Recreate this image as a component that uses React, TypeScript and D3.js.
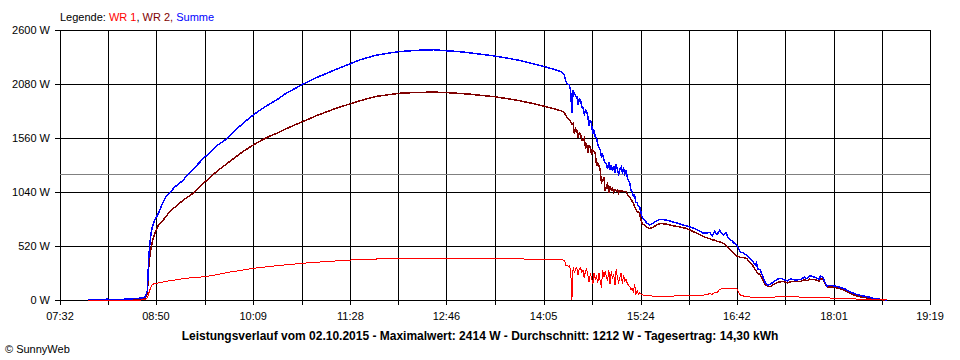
import * as d3 from "d3";

// sample times (HH:MM) and power per inverter in W
const times = [
  "07:55", "08:11", "08:14", "08:31", "08:38", "08:41", "08:43", "08:44", "08:45", "08:46",
  "08:47", "08:49", "08:52", "08:55", "08:58", "09:01", "09:05", "09:09", "09:12", "09:15",
  "09:20", "09:25", "09:30", "09:35", "09:40", "09:48", "09:55", "10:02", "10:09", "10:16",
  "10:22", "10:28", "10:35", "10:42", "10:49", "10:56", "11:02", "11:09", "11:15", "11:22",
  "11:28", "11:35", "11:42", "11:50", "11:58", "12:07", "12:17", "12:27", "12:36", "12:46",
  "12:56", "13:05", "13:15", "13:25", "13:35", "13:45", "13:55", "14:05", "14:10", "14:15",
  "14:19", "14:21", "14:22", "14:23", "14:24", "14:25", "14:26", "14:27", "14:28", "14:29",
  "14:30", "14:31", "14:32", "14:33", "14:34", "14:35", "14:36", "14:37", "14:38", "14:39",
  "14:40", "14:41", "14:42", "14:43", "14:44", "14:45", "14:46", "14:47", "14:48", "14:49",
  "14:50", "14:51", "14:52", "14:53", "14:54", "14:55", "14:56", "14:57", "14:58", "14:59",
  "15:00", "15:01", "15:02", "15:03", "15:04", "15:05", "15:06", "15:07", "15:08", "15:09",
  "15:10", "15:11", "15:12", "15:13", "15:14", "15:15", "15:16", "15:17", "15:18", "15:19",
  "15:20", "15:21", "15:22", "15:23", "15:24", "15:25", "15:27", "15:29", "15:31", "15:34",
  "15:37", "15:40", "15:45", "15:50", "15:55", "16:01", "16:05", "16:10", "16:15", "16:20",
  "16:22", "16:24", "16:26", "16:28", "16:30", "16:31", "16:33", "16:35", "16:38", "16:40",
  "16:42", "16:44", "16:45", "16:47", "16:50", "16:52", "16:55", "16:57", "16:58", "16:59",
  "17:01", "17:03", "17:05", "17:07", "17:09", "17:12", "17:15", "17:17", "17:20", "17:23",
  "17:26", "17:28", "17:31", "17:34", "17:37", "17:39", "17:41", "17:44", "17:47", "17:49",
  "17:50", "17:52", "17:54", "17:55", "17:58", "18:02", "18:06", "18:10", "18:14", "18:17",
  "18:21", "18:25", "18:30", "18:33", "18:36", "18:40", "18:44",
];

const wr1 = [
  0, 0, 0, 0, 0, 4, 20, 60, 96, 130,
  150, 158, 165, 172, 180, 185, 192, 200, 205, 210,
  216, 220, 225, 235, 245, 265, 278, 292, 305, 315,
  322, 330, 338, 346, 353, 360, 365, 370, 375, 380,
  385, 388, 392, 395, 397, 400, 402, 404, 404, 404,
  403, 402, 401, 400, 398, 396, 393, 390, 389, 388,
  386, 385, 384, 336, 330, 325, 330, 290, 0, 320,
  260, 300, 310, 240, 305, 310, 270, 290, 210, 280,
  300, 240, 170, 250, 220, 150, 260, 200, 230, 160,
  260, 180, 120, 290, 220, 270, 230, 180, 290, 150,
  280, 200, 250, 140, 300, 210, 170, 220, 260, 150,
  240, 180, 200, 160, 140, 130, 100, 110, 80, 150,
  60, 90, 55, 70, 60, 50, 45, 42, 40, 38,
  36, 35, 36, 38, 40, 40, 44, 46, 48, 60,
  55, 75, 70, 100, 110, 112, 108, 112, 110, 115,
  112, 60, 48, 40, 30, 30, 25, 25, 25, 25,
  25, 25, 25, 25, 25, 28, 30, 30, 30, 30,
  30, 30, 30, 28, 27, 27, 26, 25, 24, 23,
  23, 22, 21, 20, 19, 17, 15, 13, 11, 10,
  9, 8, 6, 4, 3, 1, 0,
];

const wr2 = [
  0, 0, 0, 0, 6, 14, 60, 300, 417, 500,
  560, 640, 720, 760, 800, 850, 890, 931, 960, 985,
  1027, 1085, 1139, 1190, 1245, 1316, 1380, 1440, 1492, 1540,
  1575, 1605, 1645, 1682, 1717, 1752, 1783, 1813, 1840, 1867,
  1890, 1915, 1940, 1962, 1975, 1990, 1996, 2000, 2002, 1997,
  1990, 1982, 1970, 1958, 1940, 1920, 1895, 1868, 1852, 1836,
  1822, 1813, 1800, 1780, 1760, 1745, 1733, 1716, 1690, 1700,
  1600, 1650, 1637, 1560, 1608, 1600, 1540, 1541, 1560, 1470,
  1500, 1420, 1486, 1476, 1400, 1440, 1430, 1412, 1290, 1320,
  1290, 1252, 1130, 1150, 1180, 1050, 1091, 1120, 1030, 1090,
  1060, 1075, 1040, 1065, 1050, 1062, 1030, 1055, 1050, 1048,
  1045, 1044, 1043, 1020, 1000, 990, 970, 950, 931, 900,
  870, 850, 845, 835, 780, 738, 720, 700, 690, 700,
  725, 738, 730, 715, 705, 690, 668, 640, 610, 590,
  580, 575, 565, 560, 550, 546, 530, 505, 470, 440,
  424, 415, 410, 410, 400, 370, 330, 290, 275, 260,
  241, 200, 150, 135, 128, 150, 170, 175, 177, 165,
  175, 180, 177, 180, 195, 185, 200, 199, 190, 180,
  205, 200, 150, 128, 125, 120, 110, 90, 65, 48,
  35, 25, 15, 10, 6, 2, 0,
];

const summe = [
  0, 8, 0, 12, 18, 26, 90, 380, 540, 640,
  700, 770, 835, 920, 995, 1030, 1085, 1125, 1150, 1200,
  1255, 1320, 1380, 1430, 1490, 1557, 1640, 1715, 1781, 1840,
  1885, 1926, 1985, 2030, 2077, 2115, 2150, 2183, 2215, 2247,
  2275, 2310, 2335, 2360, 2375, 2391, 2400, 2407, 2410, 2400,
  2392, 2380, 2365, 2350, 2330, 2308, 2280, 2250, 2232, 2215,
  2200, 2183, 2160, 2110, 2087, 2075, 2070, 2010, 1797, 2022,
  1990, 1965, 1960, 1880, 1935, 1926, 1860, 1850, 1790, 1825,
  1813, 1760, 1680, 1733, 1690, 1600, 1640, 1573, 1560, 1500,
  1470, 1444, 1380, 1400, 1350, 1320, 1316, 1260, 1330, 1250,
  1300, 1240, 1290, 1220, 1310, 1250, 1215, 1260, 1280, 1230,
  1265, 1215, 1252, 1180, 1150, 1123, 1060, 1040, 1000, 1010,
  940, 935, 900, 898, 850, 800, 770, 740, 722, 740,
  765, 777, 770, 752, 735, 713, 700, 675, 642, 650,
  620, 660, 630, 670, 640, 626, 650, 600, 570, 545,
  530, 480, 456, 456, 430, 410, 369, 340, 360, 300,
  289, 230, 170, 140, 150, 175, 200, 210, 199, 185,
  205, 195, 193, 200, 220, 205, 235, 225, 210, 200,
  230, 218, 160, 135, 140, 135, 122, 105, 80, 64,
  48, 38, 26, 15, 10, 5, 0,
];

const xTickLabels = ["07:32", "08:50", "10:09", "11:28", "12:46", "14:05", "15:24", "16:42", "18:01", "19:19"];
const yTicks = [0, 520, 1040, 1560, 2080, 2600];
const average = 1212;

const toMin = (s: string) => +s.slice(0, 2) * 60 + +s.slice(3);

export default function App() {
  const left = 60, right = 930, top = 30, bottom = 300;
  const x = d3.scaleLinear().domain([toMin("07:32"), toMin("19:19")]).range([left, right]);
  const y = d3.scaleLinear().domain([0, 2600]).range([bottom, top]);

  // gridlines at every label plus the midpoints between them
  const labelMins = xTickLabels.map(toMin);
  const gridMins: number[] = [];
  labelMins.forEach((m, i) => {
    gridMins.push(m);
    if (i < labelMins.length - 1) gridMins.push((m + labelMins[i + 1]) / 2);
  });

  const line = d3
    .line<number>()
    .x((_, i) => x(toMin(times[i])))
    .y((d) => y(d));

  const px = (v: number) => Math.round(v) + 0.5;
  const font = "'Liberation Sans', Arial, sans-serif";

  return (
    <svg
      width={960}
      height={360}
      style={{ position: "absolute", left: 0, top: 0, background: "#fff" }}
      fontFamily={font}
      fontSize={11}
    >
      <rect width={960} height={360} fill="#fff" />
      <text x={60} y={20.5}>
        <tspan fill="#000">Legende: </tspan>
        <tspan fill="#ff0000">WR 1</tspan>
        <tspan fill="#000">, </tspan>
        <tspan fill="#800000">WR 2</tspan>
        <tspan fill="#800000">, </tspan>
        <tspan fill="#0000ff">Summe</tspan>
      </text>

      {/* vertical grid + ticks */}
      {gridMins.map((m, i) => (
        <line key={"v" + i} x1={px(x(m))} x2={px(x(m))} y1={top} y2={bottom + 5} stroke="#000" shapeRendering="crispEdges" />
      ))}
      {/* horizontal grid + ticks */}
      {yTicks.map((v) => (
        <g key={"h" + v}>
          <line x1={left - 5} x2={right} y1={px(y(v))} y2={px(y(v))} stroke="#000" shapeRendering="crispEdges" />
          <text x={50} y={y(v) + 4} textAnchor="end">
            {v} W
          </text>
        </g>
      ))}
      <line x1={left} x2={right} y1={px(y(average))} y2={px(y(average))} stroke="#808080" shapeRendering="crispEdges" />

      {xTickLabels.map((t) => (
        <text key={t} x={x(toMin(t))} y={320} textAnchor="middle">
          {t}
        </text>
      ))}

      <path d={line(wr2) ?? ""} fill="none" stroke="#800000" strokeWidth={1.5} shapeRendering="crispEdges" />
      <path d={line(summe) ?? ""} fill="none" stroke="#0000ff" strokeWidth={1.5} shapeRendering="crispEdges" />
      <path d={line(wr1) ?? ""} fill="none" stroke="#ff0000" strokeWidth={1} shapeRendering="crispEdges" />

      <text x={480} y={340} textAnchor="middle" fontWeight="bold" fontSize={12}>
        Leistungsverlauf vom 02.10.2015 - Maximalwert: 2414 W - Durchschnitt: 1212 W - Tagesertrag: 14,30 kWh
      </text>
      <text x={5} y={352.5}>
        © SunnyWeb
      </text>
    </svg>
  );
}
